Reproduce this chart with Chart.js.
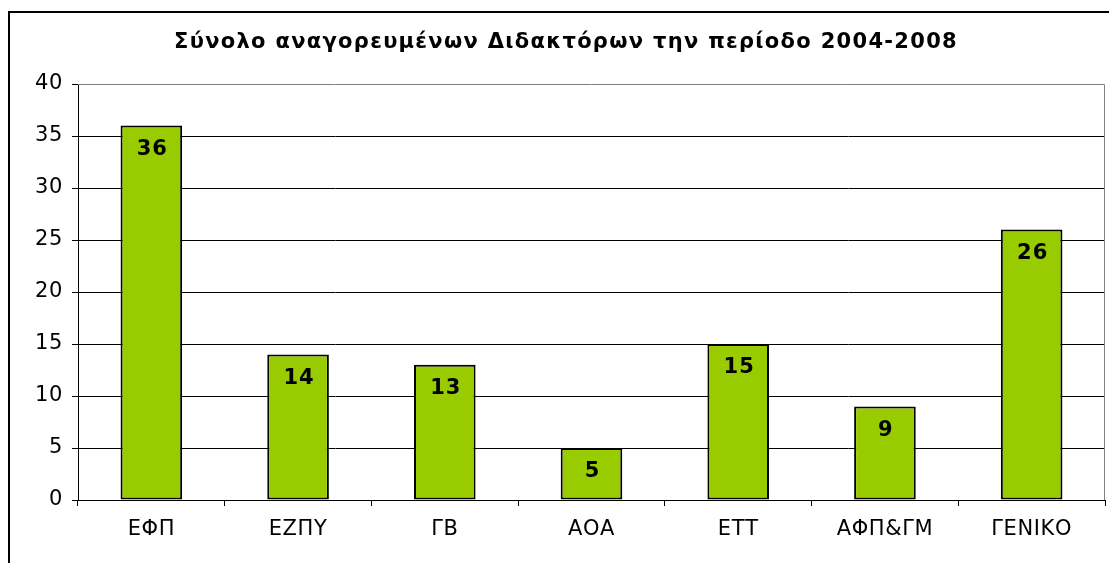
<!DOCTYPE html>
<html><head><meta charset="utf-8">
<script src="https://cdn.jsdelivr.net/npm/chart.js@4/dist/chart.umd.min.js"></script>
<style>html,body{margin:0;padding:0;background:#fff}#wrap{width:1109px;height:563px}</style>
</head><body><div id="wrap"><canvas id="c" width="1109" height="563"></canvas></div>
<script>
const categories = ["ΕΦΠ","ΕΖΠΥ","ΓΒ","ΑΟΑ","ΕΤΤ","ΑΦΠ&ΓΜ","ΓΕΝΙΚΟ"];
const values = [36,14,13,5,15,9,26];
const yTicks = [0,5,10,15,20,25,30,35,40];
const titleText = "Σύνολο αναγορευμένων Διδακτόρων την περίοδο 2004-2008";
const FONT = "'DejaVu Sans', Verdana, sans-serif";

const framePlugin = {
  id: 'frame',
  beforeDraw(chart){
    const ctx = chart.ctx;
    ctx.save();
    ctx.fillStyle = '#fff';
    ctx.fillRect(0,0,chart.width,chart.height);
    ctx.strokeStyle = '#000';
    ctx.lineWidth = 2;
    ctx.beginPath();
    ctx.moveTo(9, chart.height+2); ctx.lineTo(9, 12); ctx.lineTo(chart.width+2, 12);
    ctx.stroke();
    // title
    ctx.fillStyle = '#000';
    ctx.font = "bold 21px " + FONT;
    ctx.letterSpacing = '1.3px';
    ctx.textAlign = 'center';
    ctx.textBaseline = 'middle';
    ctx.fillText(titleText, 566, 43);
    ctx.restore();
    ctx.letterSpacing = '0.6px';
  },
  afterDatasetsDraw(chart){
    const ctx = chart.ctx, a = chart.chartArea;
    ctx.save();
    ctx.strokeStyle = '#808080';
    ctx.lineWidth = 1;
    ctx.beginPath();
    ctx.moveTo(a.left, a.top+0.5); ctx.lineTo(a.right-0.5, a.top+0.5); ctx.lineTo(a.right-0.5, a.bottom);
    ctx.stroke();
    // data labels
    const meta = chart.getDatasetMeta(0);
    ctx.fillStyle = '#000';
    ctx.font = "bold 21px " + FONT;
    ctx.letterSpacing = '1px';
    ctx.textAlign = 'center';
    ctx.textBaseline = 'middle';
    meta.data.forEach((bar,i)=>{
      ctx.fillText(String(values[i]), bar.x + 1, bar.y + 24);
    });
    ctx.restore();
  }
};

new Chart(document.getElementById('c'), {
  type: 'bar',
  data: {
    labels: categories,
    datasets: [{
      data: values,
      backgroundColor: '#99CC00',
      borderColor: '#000',
      borderWidth: 2,
      borderSkipped: false,
      categoryPercentage: 1,
      barPercentage: 0.42
    }]
  },
  options: {
    responsive: false,
    animation: false,
    layout: { padding: { left: 0, right: 4, top: 84, bottom: 0 } },
    plugins: {
      legend: { display: false },
      tooltip: { enabled: false },
      title: { display: false }
    },
    scales: {
      x: {
        grid: { offset: true, drawOnChartArea: false, color: '#000', tickLength: 6, tickColor: '#000' },
        border: { color: '#000', width: 1 },
        ticks: { color: '#000', font: { family: FONT, size: 21 }, padding: 11, maxRotation: 0 },
        afterFit(s){ s.height = 63; }
      },
      y: {
        min: 0, max: 40,
        afterBuildTicks(s){ s.ticks = yTicks.map(v=>({value:v})); },
        grid: { color: (c)=> c.tick && c.tick.value === 40 ? 'rgba(0,0,0,0)' : '#000', tickLength: 6, tickColor: '#000', lineWidth: 1 },
        border: { color: '#000', width: 1 },
        ticks: { color: '#000', font: { family: FONT, size: 21 }, padding: 9 },
        afterFit(s){ s.width = 78; }
      }
    }
  },
  plugins: [framePlugin]
});
</script>
</body></html>
